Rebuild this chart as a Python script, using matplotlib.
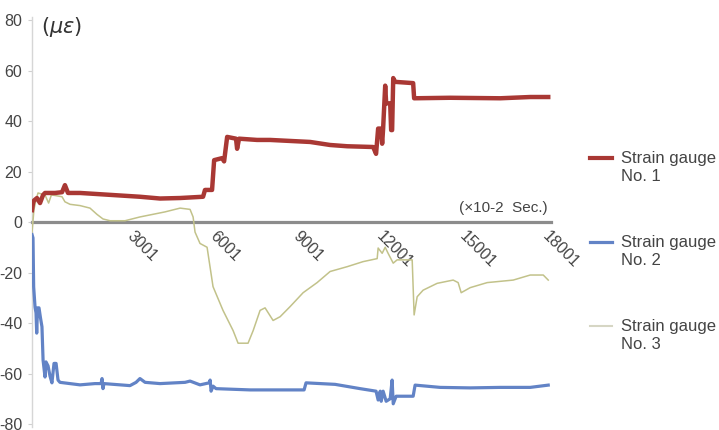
import matplotlib
matplotlib.use("Agg")
import matplotlib.pyplot as plt
from matplotlib.lines import Line2D
from matplotlib.transforms import ScaledTranslation

plt.rcParams['font.family'] = ['Liberation Sans', 'DejaVu Sans']

# ---- data (x in units of 1e-2 sec, y in micro-strain) ----
g1_x = [1, 36, 72, 180, 290, 400, 470, 580, 830, 1085, 1190, 1300, 1735, 2460, 3180,
        3900, 4625, 5350, 6180, 6250, 6505, 6580, 6870, 6940, 7050, 7370, 7410, 7480,
        8130, 8600, 10050, 10770, 11385, 12325, 12430, 12505, 12610, 12650, 12685,
        12760, 12795, 12940, 12975, 13010, 13050, 13120, 13770, 13805, 15105, 16915,
        18000, 18650]
g1_y = [4.7, 7.5, 8.5, 9.5, 7.5, 10.7, 11.5, 11.5, 11.5, 11.8, 14.6, 11.5, 11.5, 11.0,
        10.5, 10.0, 9.3, 9.5, 10.0, 12.7, 12.7, 24.5, 25.3, 24.0, 33.7, 33.0, 29.0, 33.0,
        32.5, 32.5, 31.7, 30.5, 30.0, 29.7, 27.0, 37.0, 37.0, 31.0, 37.0,
        54.0, 47.0, 47.0, 36.4, 36.4, 57.0, 55.5, 55.0, 49.0, 49.2, 49.0,
        49.5, 49.5]

g2_x = [1, 36, 60, 110, 145, 170, 200, 253, 307, 360, 400, 470, 505, 580, 650, 720, 795,
        870, 940, 1010, 1370, 1735, 2275, 2495, 2530, 2565, 2600, 3540, 3760, 3900, 4085,
        4625, 5530, 5710, 6070, 6400, 6435, 6470, 6540, 6650, 7880, 9685, 9830, 9900,
        10950, 11855, 12430, 12505, 12580, 12615, 12685, 12795, 12940, 13010, 13050,
        13155, 13770, 13840, 14745, 15830, 16915, 18000, 18650]
g2_y = [-5.0, -6.3, -25.7, -33.7, -36.0, -44.0, -34.0, -34.0, -38.0, -41.5, -54.7, -61.4,
        -55.4, -57.0, -61.0, -63.7, -56.0, -56.0, -62.6, -63.5, -64.0, -64.5, -64.0,
        -64.0, -62.0, -66.0, -64.0, -64.8, -63.5, -62.0, -63.5,
        -64.0, -63.5, -63.0, -64.5, -63.7, -62.6, -67.0, -65.0, -66.0, -66.5, -66.5,
        -66.5, -63.7, -64.3, -66.0, -67.0, -70.5, -67.0, -71.0, -67.0, -71.0, -70.0,
        -62.6, -72.0, -69.0, -69.0, -64.6, -65.5, -65.7, -65.5, -65.5, -64.6]

g3_x = [1, 72, 145, 217, 470, 600, 700, 830, 1085, 1190, 1375, 1735, 2095, 2350, 2565,
        2820, 3360, 3900, 4805, 5350, 5710, 5820, 5890, 6070, 6325, 6540, 6900, 7265,
        7445, 7805, 7990, 8240, 8420, 8710, 8965, 9325, 9795, 10300, 10770, 11385,
        11960, 12470, 12505, 12650, 12760, 12865, 13050, 13190, 13735, 13805, 13915,
        14130, 14635, 15215, 15395, 15505, 15830, 16445, 17385, 18000, 18470, 18650]
g3_y = [-4.0, 5.0, 8.7, 11.5, 10.7, 7.5, 10.7, 10.5, 10.0, 8.0, 7.0, 6.5, 5.5, 3.0,
        1.2, 0.5, 0.5, 2.0, 4.0, 5.5, 5.0, 2.0, -4.0, -8.5, -10.0, -25.6, -35.0, -43.0,
        -48.0, -48.0, -43.0, -35.0, -34.0, -39.0, -37.5, -33.5, -28.0, -24.0, -19.6,
        -17.7, -15.7, -14.5, -10.3, -12.4, -10.0, -12.4, -16.3, -15.0, -15.0, -36.8,
        -29.6, -27.0, -24.3, -23.0, -24.0, -28.0, -26.0, -24.0, -23.0, -21.0, -21.0, -23.0]

series_labels = ["Strain gauge\nNo. 1", "Strain gauge\nNo. 2", "Strain gauge\nNo. 3"]
series_colors = ["#a93834", "#6283c6", "#c2c28a"]
x_ticks = [3001, 6001, 9001, 12001, 15001, 18001]
y_ticks = [-80, -60, -40, -20, 0, 20, 40, 60, 80]
unit_label = r"$(\mu\epsilon)$"
x_unit_label = "(\u00d710-2  Sec.)"

W, H = 719, 430
fig = plt.figure(figsize=(W / 100, H / 100), dpi=100)
ax = fig.add_axes([32 / W, 1 - 424 / H, (551 - 32) / W, (424 - 20) / H])

ax.plot(g3_x, g3_y, color=series_colors[2], lw=1.1, zorder=3)
ax.plot(g2_x, g2_y, color=series_colors[1], lw=2.3, zorder=4)
ax.plot(g1_x, g1_y, color=series_colors[0], lw=3.2, zorder=5)

ax.set_xlim(0, 18750)
ax.set_ylim(-80, 80)

for s in ['top', 'right']:
    ax.spines[s].set_visible(False)
ax.spines['left'].set_color('#d6d6d6')
ax.spines['left'].set_linewidth(1.0)
ax.spines['left'].set_bounds(-81, 81)
ax.spines['bottom'].set_position(('data', 0))
ax.spines['bottom'].set_color('#8c8c8c')
ax.spines['bottom'].set_linewidth(2.3)
ax.spines['bottom'].set_zorder(2)

ax.set_yticks(y_ticks)
ax.set_yticklabels([str(v) for v in y_ticks])
ax.tick_params(axis='y', length=3, color='#d0d0d0', labelsize=11.5, labelcolor='#444444', pad=4)

ax.set_xticks(x_ticks)
ax.set_xticklabels([str(v) for v in x_ticks])
ax.tick_params(axis='x', length=0, labelsize=11.5, labelcolor='#444444', pad=0)
off = ScaledTranslation(0.20, -0.07, fig.dpi_scale_trans)
for lab in ax.get_xticklabels():
    lab.set_rotation(-45)
    lab.set_rotation_mode('anchor')
    lab.set_ha('left')
    lab.set_va('top')
    lab.set_transform(lab.get_transform() + off)

fig.text(41 / W, 1 - 27 / H, unit_label, fontsize=15, color='#333333', va='center', ha='left')
fig.text(548 / W, 1 - 208 / H, x_unit_label, fontsize=11, color='#444444', va='center', ha='right')

# legend
leg_line_y = [158, 242, 326]
leg_lw = [3.0, 2.3, 1.5]
leg_colors = [series_colors[0], series_colors[1], "#d6d6c4"]
for i, lab in enumerate(series_labels):
    y = 1 - leg_line_y[i] / H
    fig.add_artist(Line2D([590 / W, 612 / W], [y, y], color=leg_colors[i], lw=leg_lw[i],
                          transform=fig.transFigure))
    fig.text(621 / W, 1 - (leg_line_y[i] - 7) / H, lab, fontsize=12, color='#444444',
             va='top', ha='left', linespacing=1.25)

fig.savefig("out.png", dpi=100, facecolor='white')
